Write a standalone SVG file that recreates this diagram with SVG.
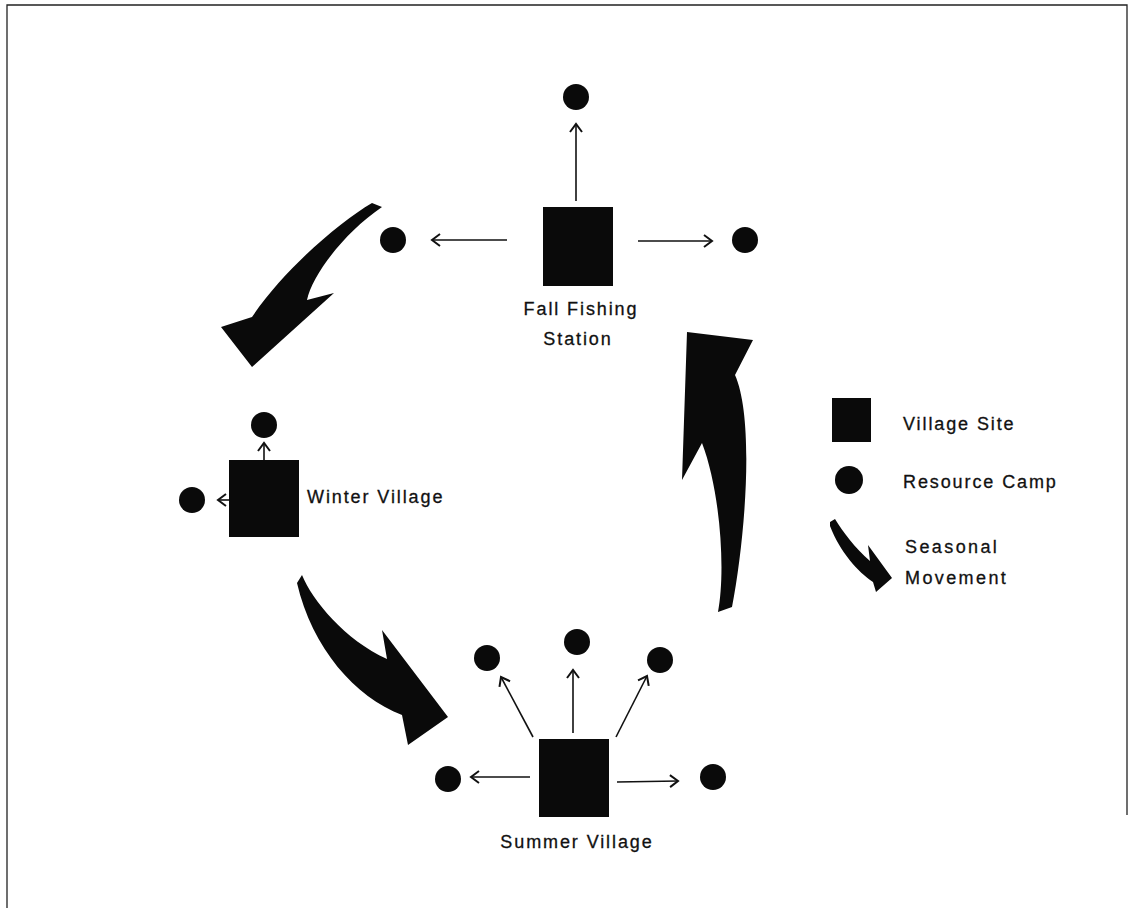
<svg xmlns="http://www.w3.org/2000/svg" width="1132" height="908" viewBox="0 0 1132 908">
<defs>
<style>
.site{fill:#0a0a0a}
.camp{fill:#0a0a0a}
.move{fill:#0a0a0a}
.lbl{font-family:"Liberation Sans",Arial,sans-serif;font-size:18px;fill:#111;letter-spacing:1.9px;stroke:#111;stroke-width:0.3px}
.leg{font-family:"Liberation Sans",Arial,sans-serif;font-size:18px;fill:#111;letter-spacing:2.4px;stroke:#111;stroke-width:0.3px}
.conn line{stroke:#111;stroke-width:1.6;marker-end:url(#ah)}
.frame{stroke:#222;stroke-width:1.3;fill:none}
</style>
<marker id="ah" markerUnits="userSpaceOnUse" markerWidth="20" markerHeight="20" viewBox="-10 -10 20 20" refX="0" refY="0" orient="auto">
<path d="M-8,-6 L0,0 L-8,6" fill="none" stroke="#111" stroke-width="2"/>
</marker>
</defs>
<rect width="1132" height="908" fill="#fff"/>
<path class="frame" d="M7,908 L7,5 L1127,5 L1127,815"/>

<g id="connectors" class="conn">
<line x1="576" y1="201" x2="576" y2="124"/>
<line x1="507" y1="240" x2="432" y2="240"/>
<line x1="638" y1="241" x2="712" y2="241"/>
<line x1="264" y1="460" x2="264" y2="443"/>
<line x1="229" y1="500" x2="218" y2="500"/>
<line x1="533" y1="737" x2="501" y2="677"/>
<line x1="573" y1="733" x2="573" y2="670"/>
<line x1="616" y1="737" x2="647" y2="676"/>
<line x1="530" y1="777" x2="471" y2="777"/>
<line x1="617" y1="782" x2="678" y2="781"/>
</g>

<g id="fall-fishing-station">
<rect class="site" x="543" y="207" width="70" height="79"/>
<text class="lbl" x="581" y="315" text-anchor="middle">Fall Fishing</text>
<text class="lbl" x="578" y="345" text-anchor="middle">Station</text>
</g>
<g id="fall-camp-top"><circle class="camp" cx="576" cy="97" r="13"/></g>
<g id="fall-camp-left"><circle class="camp" cx="393" cy="240" r="13"/></g>
<g id="fall-camp-right"><circle class="camp" cx="745" cy="240" r="13"/></g>

<g id="winter-village">
<rect class="site" x="229" y="460" width="70" height="77"/>
<text class="lbl" x="307" y="503">Winter Village</text>
</g>
<g id="winter-camp-top"><circle class="camp" cx="264" cy="425" r="13"/></g>
<g id="winter-camp-left"><circle class="camp" cx="192" cy="500" r="13"/></g>

<g id="summer-village">
<rect class="site" x="539" y="739" width="70" height="78"/>
<text class="lbl" x="577" y="848" text-anchor="middle">Summer Village</text>
</g>
<g id="summer-camp-tl"><circle class="camp" cx="487" cy="658" r="13"/></g>
<g id="summer-camp-top"><circle class="camp" cx="577" cy="642" r="13"/></g>
<g id="summer-camp-tr"><circle class="camp" cx="660" cy="660" r="13"/></g>
<g id="summer-camp-left"><circle class="camp" cx="448" cy="779" r="13"/></g>
<g id="summer-camp-right"><circle class="camp" cx="713" cy="777" r="13"/></g>

<g id="movement-fall-to-winter">
<path class="move" d="M372,203 C340,222 285,268 252,317 L221,327 L252,367 L334,293 L307,300 C312,275 345,232 382,207 Z"/>
</g>
<g id="movement-winter-to-summer">
<path class="move" d="M302,575 C312,600 345,640 387,659 L382,630 L448,717 L408,745 L402,715 C355,697 312,648 297,583 Z"/>
</g>
<g id="movement-summer-to-fall">
<path class="move" d="M687,332 L753,340 L735,375 C755,420 745,540 732,607 L718,612 C726,570 720,490 702,443 L682,480 Z"/>
</g>

<g id="legend">
<g id="legend-village-site">
<rect class="site" x="832" y="398" width="39" height="44"/>
<text class="leg" x="903" y="430" style="letter-spacing:1.9px">Village Site</text>
</g>
<g id="legend-resource-camp">
<circle class="camp" cx="849" cy="480" r="14"/>
<text class="leg" x="903" y="488" style="letter-spacing:1.9px">Resource Camp</text>
</g>
<g id="legend-seasonal-movement">
<path class="move" d="M830,522 L835,519 C843,532 855,548 870,561 L868,545 L892,578 L876,592 L873,582 C858,572 840,552 830,526 Z"/>
<text class="leg" x="905" y="553">Seasonal</text>
<text class="leg" x="905" y="584">Movement</text>
</g>
</g>
</svg>
